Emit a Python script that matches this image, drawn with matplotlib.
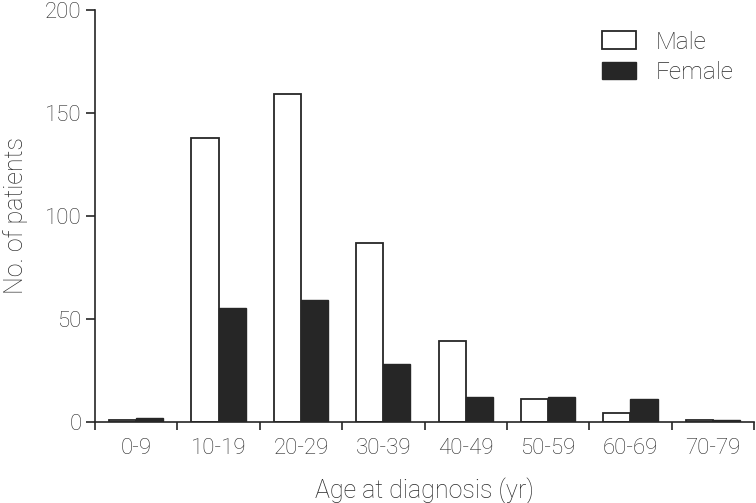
"""Age at diagnosis by sex, grouped bar chart."""
import matplotlib
matplotlib.use("Agg")
import matplotlib.pyplot as plt
import numpy as np

plt.rcParams["font.family"] = ["Roboto", "DejaVu Sans"]

age_groups = ["0-9", "10-19", "20-29", "30-39", "40-49", "50-59", "60-69", "70-79"]
male = [1, 138, 159, 87, 39, 11, 4, 1]
female = [2, 55, 59, 28, 12, 12, 11, 1]

INK = "#262626"
TXT = "#2a2a2a"

fig = plt.figure(figsize=(7.56, 5.03), dpi=100)
ax = fig.add_axes([95 / 756, 81.3 / 503, 659 / 756, 411.7 / 503])

x = np.arange(len(age_groups))
w = 0.33
ax.bar(x - w / 2, male, w, facecolor="white", edgecolor=INK, lw=1.3, label="Male")
ax.bar(x + w / 2, female, w, facecolor=INK, edgecolor=INK, lw=1.0, label="Female")

ax.set_xlim(-0.5, len(age_groups) - 0.5)
ax.set_ylim(0, 200)
ax.set_yticks([0, 50, 100, 150, 200])

ax.set_xticks(x)
ax.set_xticklabels(age_groups)
ax.set_xticks(np.arange(len(age_groups) + 1) - 0.5, minor=True)
ax.tick_params(axis="x", which="major", length=0, pad=12)
ax.tick_params(axis="x", which="minor", length=6, width=1.2, color=INK, direction="out")
ax.tick_params(axis="y", length=6.5, width=1.2, color=INK, pad=3)
ax.tick_params(labelsize=16, labelcolor=TXT)
for lab in ax.get_xticklabels() + ax.get_yticklabels():
    lab.set_fontweight("light")

for s in ["top", "right"]:
    ax.spines[s].set_visible(False)
for s in ["left", "bottom"]:
    ax.spines[s].set_linewidth(1.2)
    ax.spines[s].set_color(INK)

ax.set_xlabel("Age at diagnosis (yr)", fontsize=18, color=TXT, fontweight="light", labelpad=13)
ax.set_ylabel("No. of patients", fontsize=18, color=TXT, fontweight="light", labelpad=12)

leg = ax.legend(loc="upper right", bbox_to_anchor=(1.0, 1.0), frameon=False,
                handlelength=1.4, handleheight=0.75, labelspacing=0.3,
                handletextpad=0.8, borderaxespad=0.45,
                prop={"weight": "light", "size": 17.5})
for t in leg.get_texts():
    t.set_color(TXT)

fig.savefig("out.png", dpi=100, facecolor="white")
